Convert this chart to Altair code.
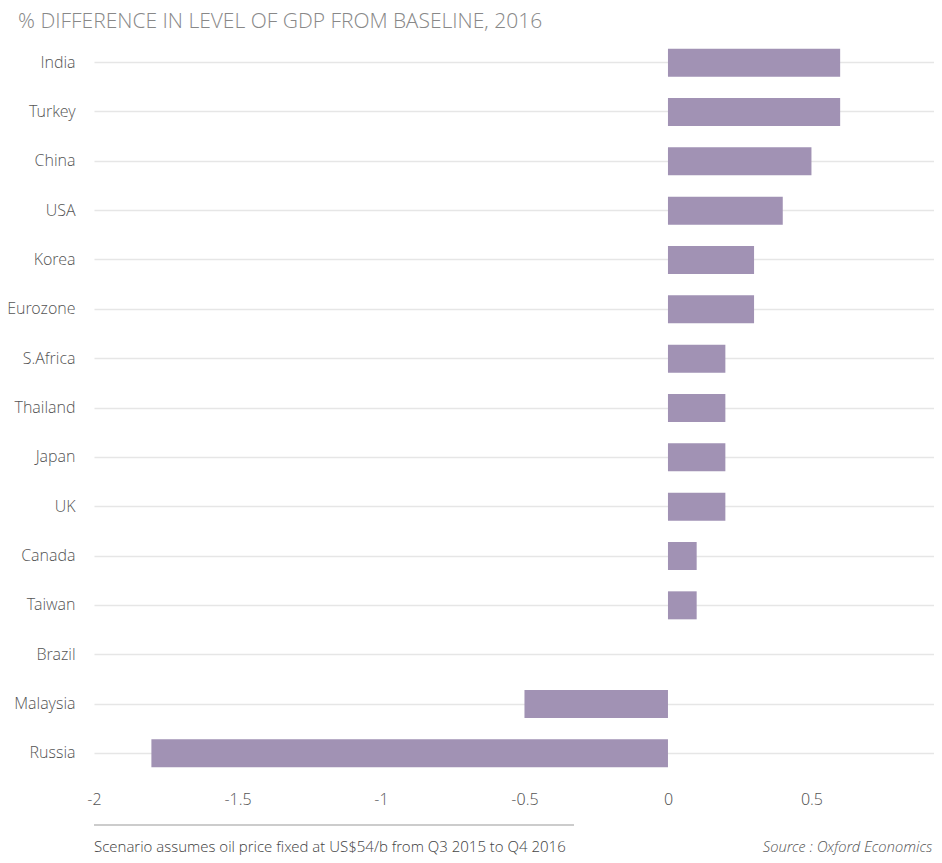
import altair as alt
import pandas as pd

countries = ["India", "Turkey", "China", "USA", "Korea", "Eurozone", "S.Africa",
             "Thailand", "Japan", "UK", "Canada", "Taiwan", "Brazil", "Malaysia", "Russia"]
values = [0.6, 0.6, 0.5, 0.4, 0.3, 0.3, 0.2, 0.2, 0.2, 0.2, 0.1, 0.1, 0.0, -0.5, -1.8]
x_ticks = [-2, -1.5, -1, -0.5, 0, 0.5, 1]

subtitle = "% DIFFERENCE IN LEVEL OF GDP FROM BASELINE, 2016"
note = "Scenario assumes oil price fixed at US$54/b from Q3 2015 to Q4 2016"
source = "Source : Oxford Economics"

df = pd.DataFrame({"country": countries, "value": values})

FONT = "Open Sans Light, Open Sans"
W = 840
H = 740

bars = alt.Chart(df).mark_bar(color="#A192B4", size=28).encode(
    x=alt.X("value:Q",
            scale=alt.Scale(domain=[-2, 0.927], nice=False, zero=False),
            axis=alt.Axis(values=x_ticks, title=None, grid=False, domain=False,
                          ticks=False, labelFont=FONT, labelFontSize=16,
                          labelFontWeight=300, labelColor="#555555",
                          labelExpr="'' + datum.value",
                          labelPadding=13, labelFlush=False)),
    y=alt.Y("country:N", sort=countries,
            scale=alt.Scale(paddingInner=0.43, paddingOuter=0.215),
            axis=alt.Axis(title=None, domain=False, ticks=False, grid=True,
                          gridColor="#E6E6E6", gridWidth=1.5, bandPosition=0.5,
                          labelFont=FONT, labelFontSize=16, labelFontWeight=300,
                          labelColor="#555555", labelPadding=19)),
)

foot_df = pd.DataFrame({"t": [note]})
rule = alt.Chart(foot_df).mark_rule(color="#CCCCCC", strokeWidth=2).encode(
    x=alt.value(0), x2=alt.value(480), y=alt.value(787))
note_txt = alt.Chart(foot_df).mark_text(
    align="left", baseline="middle", font=FONT, fontSize=15, fontWeight=300,
    color="#444444").encode(x=alt.value(0), y=alt.value(809), text="t:N")
src_df = pd.DataFrame({"t": [source]})
src_txt = alt.Chart(src_df).mark_text(
    align="right", baseline="middle", font=FONT, fontSize=15, fontWeight=300,
    fontStyle="italic", color="#555555").encode(x=alt.value(838), y=alt.value(809), text="t:N")

chart = alt.layer(bars, rule, note_txt, src_txt).properties(
    width=W, height=H,
    autosize=alt.AutoSizeParams(type="none"),
    padding={"left": 86, "top": 30, "right": 0, "bottom": 77},
    title=alt.TitleParams(subtitle, anchor="start", frame="group", dx=-76, font=FONT,
                          fontSize=21, fontWeight=300, color="#888888", offset=6),
).configure_view(stroke=None)

chart.save("out.html", embed_options={"renderer": "svg", "actions": False})
